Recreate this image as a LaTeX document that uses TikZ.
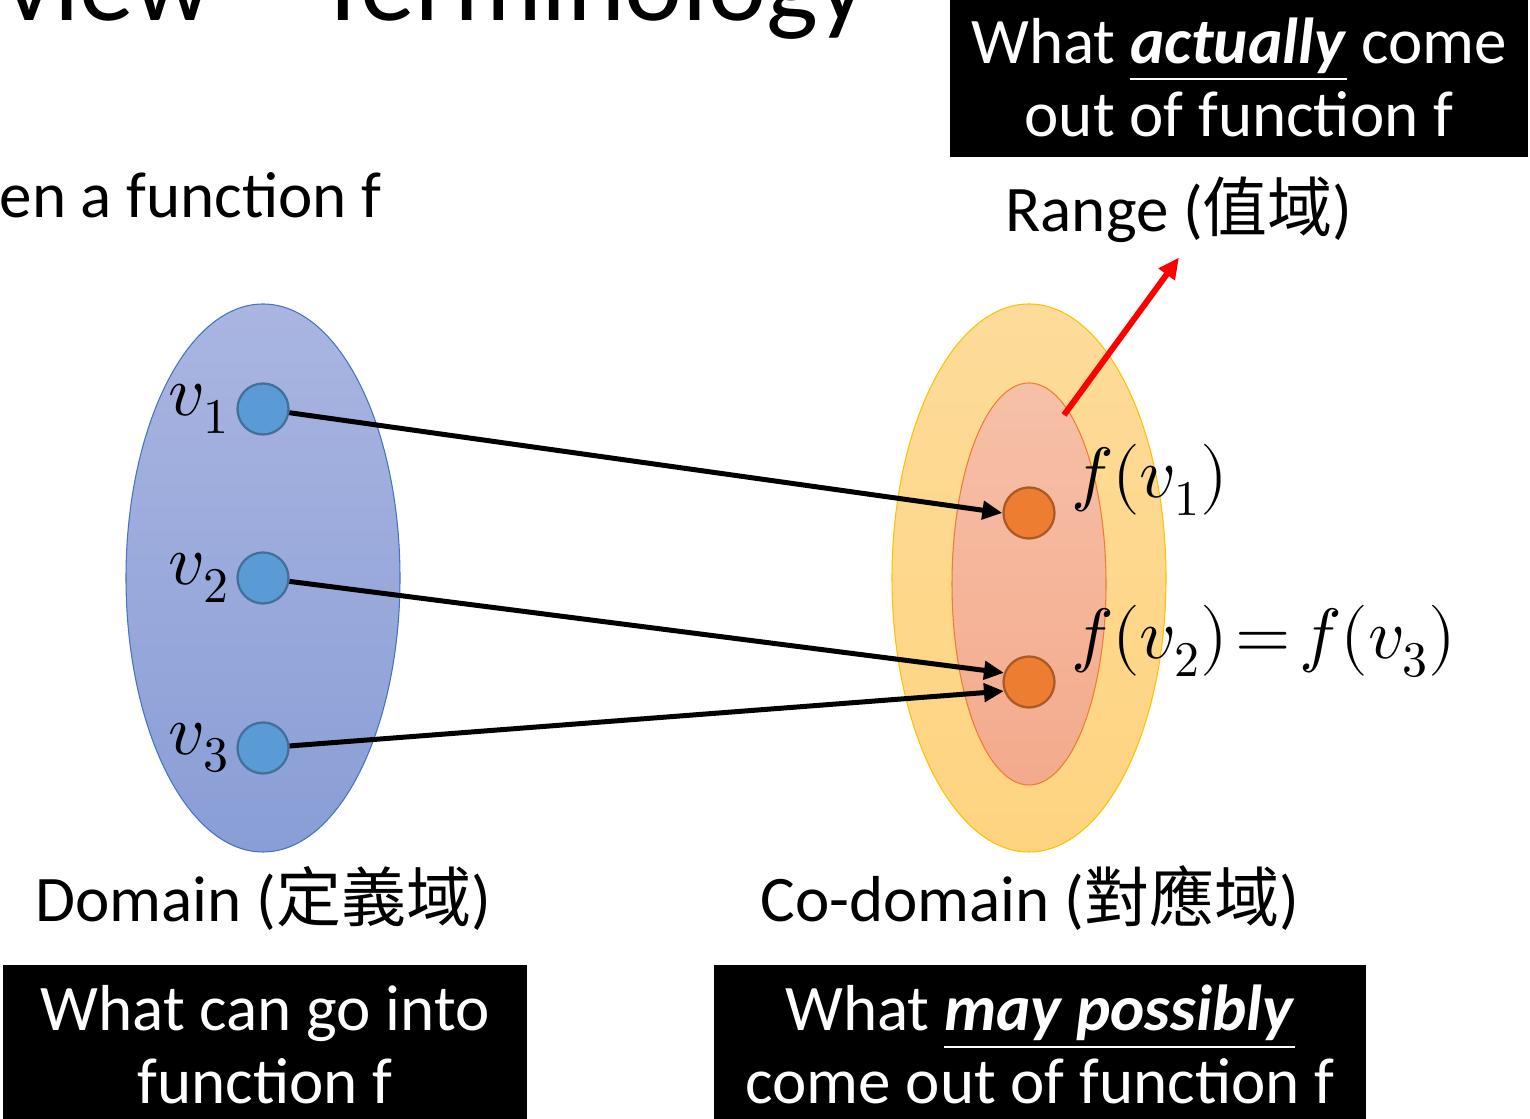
\documentclass[tikz,border=0pt]{standalone}
\usepackage{fontspec}
\usepackage{unicode-math}
\setmainfont{Carlito}
\setmathfont{Latin Modern Math}
\newfontfamily\cjk{Noto Sans CJK TC}
\usetikzlibrary{arrows.meta,positioning,shapes.geometric}
\definecolor{setBlue}{RGB}{68,114,196}
\definecolor{setBlueTop}{RGB}{170,181,225}
\definecolor{setBlueBot}{RGB}{137,158,214}
\definecolor{dotBlue}{RGB}{91,155,213}
\definecolor{setGold}{RGB}{255,192,0}
\definecolor{setGoldTop}{RGB}{253,219,153}
\definecolor{setGoldBot}{RGB}{254,212,128}
\definecolor{setPeach}{RGB}{237,125,49}
\definecolor{setPeachTop}{RGB}{246,192,168}
\definecolor{setPeachBot}{RGB}{244,170,140}
\definecolor{dotOrange}{RGB}{237,125,49}
\newcommand{\sizeBody}{\fontsize{37}{41.5}\selectfont}
\newcommand{\sizeMath}{\fontsize{40.5}{45}\selectfont}
\newcommand{\sizeTitle}{\fontsize{62.6}{70}\selectfont}
\newcommand{\ulword}[1]{\vtop{\hbox{#1}\kern0.07em\hrule height 0.035em}}

\begin{document}
\begin{tikzpicture}[
  every node/.style={font=\sizeBody},
  blob/.style n args={3}{
    ellipse,
    draw=#1,
    top color=#2,
    bottom color=#3,
    line width=0.6pt,
    inner sep=0pt
  },
  dot/.style={
    circle,
    draw=#1!72!black,
    fill=#1,
    line width=1.3pt,
    minimum size=1.02cm,
    inner sep=0pt
  },
  tag/.style={inner sep=0pt, font=\sizeMath},
  caption/.style={inner sep=0.28cm},
  remark/.style={
    fill=black,
    text=white,
    align=center,
    minimum width=#1,
    inner xsep=0pt,
    inner ysep=0.4cm
  },
  maparrow/.style={-{Triangle[length=0.4cm,width=0.36cm]}, line width=0.1cm},
  pointer/.style={-{Triangle[length=0.42cm,width=0.38cm]}, line width=0.12cm, red}
]
  \useasboundingbox (0,0) rectangle (30.6,22.38);

  % headings
  \node[anchor=base east, inner sep=0pt, font=\sizeTitle] (title) at (17.36,21.96)
    {Review – Terminology};
  \node[anchor=base east, inner sep=0pt] (given) at (7.64,18.02)
    {Given a function f};

  % the three sets
  \node[blob={setBlue}{setBlueTop}{setBlueBot},
        minimum width=5.48cm, minimum height=10.96cm] (domset) at (5.26,10.82) {};
  \node[blob={setGold}{setGoldTop}{setGoldBot},
        minimum width=5.48cm, minimum height=10.96cm] (codset) at (20.58,10.82) {};
  \node[blob={setPeach}{setPeachTop}{setPeachBot},
        minimum width=3.08cm, minimum height=8.04cm] (rngset) at (20.58,10.70) {};

  % inputs
  \node[dot=dotBlue] (v1) at (5.26,14.20) {};
  \node[dot=dotBlue] (v2) at (5.26,10.82) {};
  \node[dot=dotBlue] (v3) at (5.26,7.42) {};
  \node[tag, left=0.14cm of v1] (lv1) {$v_1$};
  \node[tag, left=0.14cm of v2] (lv2) {$v_2$};
  \node[tag, left=0.14cm of v3] (lv3) {$v_3$};

  % outputs
  \node[dot=dotOrange] (f1) at (20.58,12.12) {};
  \node[dot=dotOrange] (f2) at (20.58,8.74) {};
  \node[tag, anchor=base west] (lf1) at ([shift={(0.3,0.3)}]f1.east)
    {$f(v_1)$};
  \node[tag, anchor=base west] (lf2) at ([shift={(0.3,0.46)}]f2.east)
    {$\thickmuskip=2mu f(v_2) = f(v_3)$};

  \draw[maparrow] (v1) -- (f1.west);
  \draw[maparrow] (v2) -- (f2.160);
  \draw[maparrow] (v3) -- (f2.200);

  % set names
  \node[caption, anchor=base] (domain) at (5.26,3.94) {Domain ({\cjk 定義域})};
  \node[caption, anchor=base] (codomain) at (20.60,3.94) {Co-domain ({\cjk 對應域})};
  \node[caption, anchor=base] (range) at (23.58,17.74) {Range ({\cjk 值域})};
  \coordinate (rangefoot) at (21.28,14.08);
  \draw[pointer] (rangefoot) -- (range.south);

  % remarks
  \node[remark=11.56cm, anchor=south] (actualbox) at (24.78,19.24)
    {What \ulword{\textbf{\textit{actually}}} come\\out of function f};
  \node[remark=10.48cm, anchor=north] (inbox) at (5.30,3.08)
    {What can go into\\function f};
  \node[remark=13.04cm, anchor=north] (maybebox) at (20.80,3.08)
    {What \ulword{\textbf{\textit{may possibly}}}\\come out of function f};
\end{tikzpicture}
\end{document}
